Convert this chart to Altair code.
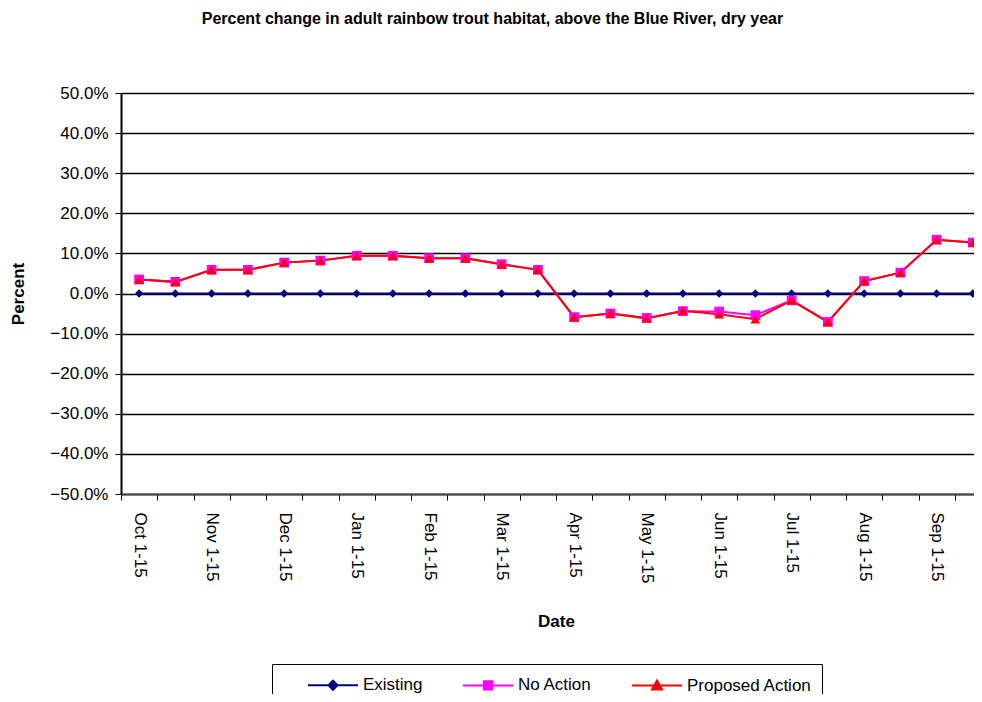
import altair as alt
import pandas as pd

periods = ["Oct 1-15", "Oct 16-31", "Nov 1-15", "Nov 16-30", "Dec 1-15", "Dec 16-31",
           "Jan 1-15", "Jan 16-31", "Feb 1-15", "Feb 16-28", "Mar 1-15", "Mar 16-31",
           "Apr 1-15", "Apr 16-30", "May 1-15", "May 16-31", "Jun 1-15", "Jun 16-30",
           "Jul 1-15", "Jul 16-31", "Aug 1-15", "Aug 16-31", "Sep 1-15", "Sep 16-30"]

existing = [0.0, 0.0, 0.0, 0.0, 0.0, 0.0, 0.0, 0.0, 0.0, 0.0, 0.0, 0.0,
            0.0, 0.0, 0.0, 0.0, 0.0, 0.0, 0.0, 0.0, 0.0, 0.0, 0.0, 0.0]
no_action = [3.5, 2.9, 5.9, 5.9, 7.7, 8.2, 9.4, 9.4, 8.8, 8.8, 7.3, 5.9,
             -5.9, -5.0, -6.1, -4.4, -4.5, -5.4, -1.7, -7.1, 3.1, 5.2, 13.4, 12.7]
proposed = [3.5, 2.9, 5.9, 5.9, 7.7, 8.2, 9.4, 9.4, 8.8, 8.8, 7.3, 5.9,
            -5.9, -5.0, -6.2, -4.3, -5.2, -6.4, -1.7, -7.1, 3.1, 5.2, 13.4, 12.7]

series_names = ["Existing", "No Action", "Proposed Action"]
series_colors = ["#000080", "#FF00FF", "#FF0000"]
marker_shapes = ["diamond", "square", "triangle-up"]
marker_sizes = [70, 95, 95]
legend_paths = [
    "M-2.5,0H2.5M0,-0.45L0.45,0L0,0.45L-0.45,0Z",
    "M-2.5,0H2.5M-0.42,-0.42H0.42V0.42H-0.42Z",
    "M-2.5,0H2.5M0,-0.5L0.5,0.4H-0.5Z",
]

rows = []
for name, vals in zip(series_names, [existing, no_action, proposed]):
    for i, (p, v) in enumerate(zip(periods, vals)):
        rows.append({"period": p, "series": name, "value": v / 100.0})
df = pd.DataFrame(rows)

FONT = "Liberation Sans"

x_enc = alt.X(
    "period:N",
    sort=None,
    scale=alt.Scale(type="band", paddingInner=0, paddingOuter=0, range=[0, 870]),
    axis=alt.Axis(
        title="Date",
        labelAngle=90,
        labelAlign="left",
        labelBaseline="middle",
        labelExpr="length(datum.label) == 8 ? datum.label : ''",
        tickBand="extent",
        tickSize=6,
        tickColor="black",
        domainColor="#444444",
        domainWidth=2,
        labelPadding=12,
        labelFontSize=17,
        labelFont=FONT,
        labelColor="black",
        titleFont=FONT,
        titleFontSize=17,
        titleFontWeight="bold",
        titleColor="black",
        titlePadding=31,
        grid=False,
        labelOverlap=False,
    ),
)

y_enc = alt.Y(
    "value:Q",
    scale=alt.Scale(domain=[-0.5, 0.5], nice=False, zero=False),
    axis=alt.Axis(
        title="Percent",
        values=[-0.5, -0.4, -0.3, -0.2, -0.1, 0.0, 0.1, 0.2, 0.3, 0.4, 0.5],
        format=".1%",
        tickSize=6,
        tickColor="black",
        domainColor="black",
        domainWidth=2,
        labelPadding=7,
        labelFontSize=17,
        labelFont=FONT,
        labelColor="black",
        titleFont=FONT,
        titleFontSize=17,
        titleFontWeight="bold",
        titleColor="black",
        titlePadding=22,
        grid=True,
        gridColor="black",
        gridWidth=1.6,
        gridOpacity=1,
    ),
)

color_scale = alt.Scale(domain=series_names, range=series_colors)

legend_cfg = alt.Legend(
    title=None,
    orient="none",
    legendX=151,
    legendY=571,
    direction="horizontal",
    strokeColor="black",
    fillColor="white",
    padding=10,
    symbolSize=400,
    symbolStrokeWidth=2,
    symbolOpacity=1,
    symbolOffset=40,
    labelFont=FONT,
    labelFontSize=17,
    labelColor="black",
    labelOffset=19,
    columnPadding=14,
)

lines = alt.Chart(df).mark_line(strokeWidth=2).encode(
    x=x_enc,
    y=y_enc,
    stroke=alt.Stroke("series:N", scale=color_scale, legend=legend_cfg),
)

legend_dummy = alt.Chart(df).transform_filter(alt.datum.value > 5).mark_point(filled=True).encode(
    x=x_enc,
    y=y_enc,
    fill=alt.Fill("series:N", scale=color_scale, legend=legend_cfg),
    shape=alt.Shape("series:N", scale=alt.Scale(domain=series_names, range=legend_paths), legend=legend_cfg),
)

point_layers = []
for name, col, shp, sz in zip(series_names, series_colors, marker_shapes, marker_sizes):
    point_layers.append(
        alt.Chart(df).transform_filter(alt.datum.series == name).mark_point(
            filled=True, opacity=1, color=col, shape=shp, size=sz
        ).encode(x=x_enc, y=y_enc)
    )

chart = alt.layer(lines, legend_dummy, *point_layers).properties(
    width=853,
    height=401,
    autosize=alt.AutoSizeParams(type="none"),
    padding={"left": 113, "top": 85, "right": 0, "bottom": 200},
    title=alt.TitleParams(
        "Percent change in adult rainbow trout habitat, above the Blue River, dry year",
        font=FONT,
        fontSize=16,
        fontWeight="bold",
        color="black",
        anchor="middle",
        dx=-55,
        offset=57,
    ),
).configure_view(strokeWidth=0).configure(background="white")

chart.save("out.html", embed_options={"renderer": "svg", "actions": False})
